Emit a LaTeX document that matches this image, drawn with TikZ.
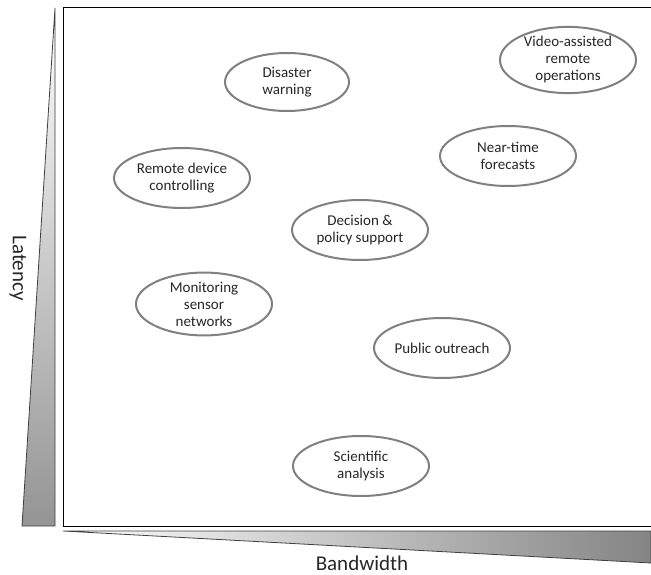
\documentclass[tikz,border=0pt]{standalone}
\usepackage{fontspec}
\setmainfont{Carlito}
\usetikzlibrary{shapes.geometric}
\tikzset{
	app/.style = {ellipse, draw = black!50, line width = 2pt, inner sep = 0pt,
		minimum width = 136pt, minimum height = 60pt, align = center, text = black!85,
		font = \fontsize{15}{17}\selectfont},
	axislabel/.style = {text = black!85, inner sep = 0pt, font = \fontsize{21}{24}\selectfont}
}
\begin{document}
\begin{tikzpicture}[x = 1pt, y = -1pt]
	\useasboundingbox (0, 0) rectangle (651, 575);
	% gray wedges
	\shade[top color = white, bottom color = black!42] (55, 8) -- (55, 526) -- (22, 526) -- cycle;
	\draw[black!75, line width = 0.8pt] (55, 8) -- (55, 526) -- (22, 526) -- cycle;
	\shade[left color = white, right color = black!48] (63, 531) -- (651, 531) -- (651, 563) -- cycle;
	\draw[black!75, line width = 0.8pt] (63, 531) -- (651, 531) -- (651, 563) -- cycle;
	% frame
	\draw[line width = 1pt] (652, 8) -- (63, 8) -- (63, 526) -- (652, 526);
	% axis labels
	\node[axislabel, rotate = -90] (latency) at (18, 268) {Latency};
	\node[axislabel] (bandwidth) at (362, 563) {Bandwidth};
	% the applications
	\node[app, minimum width = 124pt, minimum height = 58pt] (disaster) at (287, 82) {Disaster\\warning};
	\node[app] (video)      at (568, 60)  {Video-assisted\\remote\\operations};
	\node[app] (remote)     at (182, 178) {Remote device\\controlling};
	\node[app] (neartime)   at (508, 156) {Near-time\\forecasts};
	\node[app] (decision)   at (360, 230) {Decision \&\\policy support};
	\node[app] (monitoring) at (204, 304) {Monitoring\\sensor\\networks};
	\node[app] (outreach)   at (442, 348) {Public outreach};
	\node[app] (science)    at (361, 466) {Scientific\\analysis};
\end{tikzpicture}
\end{document}
